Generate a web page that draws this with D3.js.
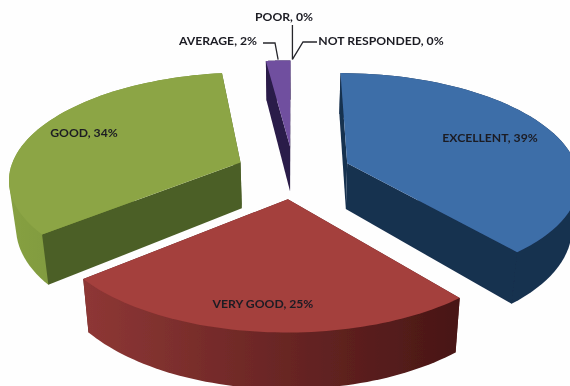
<!DOCTYPE html>
<html>
<head>
<meta charset="utf-8">
<script src="https://cdn.jsdelivr.net/npm/d3@7"></script>
<style>
html,body{margin:0;padding:0;background:#fefefe;overflow:hidden}
text{font-family:Lato,"Open Sans",sans-serif;font-weight:700;fill:#1c1c24}
</style>
</head>
<body>
<svg id="c" width="570" height="386"></svg>
<script>
const categories = ["EXCELLENT","VERY GOOD","GOOD","AVERAGE","POOR","NOT RESPONDED"];
const values = [39,25,34,2,0,0];
const labelSep = [",  ",", ",", ",", ",", ",", "];
const topColors = ["#3e6ea8","#a43f3d","#8ca545","#6f4f9f","#6f4f9f","#6f4f9f"];
const sideColors = ["#17304f","#5a1f1d","#4c5f27","#2c1a48","#2c1a48","#2c1a48"];
const wallStart = ["#17304f","#8e3735","#86a042","#2c1a48","#2c1a48","#2c1a48"];
const wallEnd = ["#17304f","#481615","#6e8834","#2c1a48","#2c1a48","#2c1a48"];
const labelPos = [[490,138],[263,304],[84,133],[218,41],[284,17],[381,41]];

const W=570,H=386;
const svg=d3.select("#c");
const defs=svg.append("defs");
defs.append("filter").attr("id","soft").attr("x","-5%").attr("y","-5%").attr("width","110%").attr("height","110%")
  .append("feGaussianBlur").attr("stdDeviation",0.55);
const g=svg.append("g").attr("filter","url(#soft)");
g.append("rect").attr("width",W).attr("height",H).attr("fill","#fefefe");

const cx=293.5,cy=172,rx=231,ry=105.4,persp=0.144,depth=46.5,explode=0.25,shrink=0.025;

function project(u,v,z){
  const w=1+persp*v;
  return [cx+u*rx/w*(1-shrink*z), cy-v*ry/w+z*depth/w];
}
const pie=d3.pie().sort(null).startAngle(0).endAngle(2*Math.PI)(values);
const line=d3.line();

const slices=pie.map((p,i)=>{
  const mid=(p.startAngle+p.endAngle)/2;
  const e=p.value>0?explode:0;
  const ou=Math.sin(mid)*e, ov=Math.cos(mid)*e;
  const pt=(a,r,z)=>project(ou+Math.sin(a)*r, ov+Math.cos(a)*r, z);
  const angles=d3.range(0,61).map(t=>p.startAngle+(p.endAngle-p.startAngle)*t/60);
  return {i,p,mid,pt,angles,name:categories[i]};
}).filter(s=>s.p.value>0);

slices.forEach(s=>{
  const grad=defs.append("linearGradient").attr("id","wall"+s.i).attr("gradientUnits","userSpaceOnUse");
  const xs=s.angles.map(a=>s.pt(a,1,0)[0]);
  grad.attr("x1",d3.min(xs)).attr("x2",d3.max(xs)).attr("y1",0).attr("y2",0);
  grad.append("stop").attr("offset",0).attr("stop-color",wallStart[s.i]);
  grad.append("stop").attr("offset",1).attr("stop-color",wallEnd[s.i]);
});

const order=[3,2,0,1].map(i=>slices.find(s=>s.i===i));
order.forEach(s=>{
  const sg=g.append("g");
  const radial=a=>sg.append("path")
      .attr("d",line([s.pt(0,0,0),s.pt(a,1,0),s.pt(a,1,1),s.pt(0,0,1)])+"Z")
      .attr("fill",sideColors[s.i]);
  // a radial face turned towards the viewer goes over the curved wall, one turned away goes under it
  const startFront=Math.sin(s.p.startAngle)<-1e-6;
  const endFront=Math.sin(s.p.endAngle)>1e-6;
  if(!startFront) radial(s.p.startAngle);
  if(!endFront) radial(s.p.endAngle);
  const outer=d3.polygonHull(s.angles.map(a=>s.pt(a,1,0)).concat(s.angles.map(a=>s.pt(a,1,1))));
  sg.append("path").attr("d",line(outer)+"Z").attr("fill","url(#wall"+s.i+")");
  if(startFront) radial(s.p.startAngle);
  if(endFront) radial(s.p.endAngle);
  const top=[s.pt(0,0,0)].concat(s.angles.map(a=>s.pt(a,1,0)));
  sg.append("path").attr("d",line(top)+"Z").attr("fill",topColors[s.i]);
});

// leader lines from the thin back slices to their labels
const back=slices.find(s=>s.i===3);
const avgAnchor=back.pt((back.p.startAngle+back.p.endAngle)/2,1,0);
const edgeAnchor=back.pt(back.p.endAngle,1,0);
const leaders=[
  [[263,43],[275,43],[avgAnchor[0],avgAnchor[1]-1]],
  [[edgeAnchor[0]+2,25],[edgeAnchor[0]+2,edgeAnchor[1]-1]],
  [[317,42],[303,42],[edgeAnchor[0]+2,edgeAnchor[1]-1]]
];
leaders.forEach(l=>g.append("path").attr("d",line(l)).attr("fill","none").attr("stroke","#26262c").attr("stroke-width",1.3));

categories.forEach((c,i)=>{
  g.append("text").attr("x",labelPos[i][0]).attr("y",labelPos[i][1]).attr("dy","0.35em")
   .attr("text-anchor","middle").attr("font-size",12.2)
   .text(c+labelSep[i]+values[i]+"%");
});
</script>
</body>
</html>
